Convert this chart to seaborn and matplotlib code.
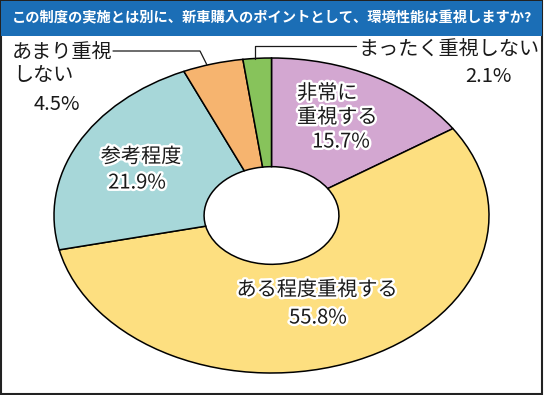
import matplotlib
matplotlib.use('Agg')
import matplotlib.pyplot as plt
import matplotlib.patheffects as pe
from matplotlib.patches import Rectangle
import seaborn as sns

sns.set_theme(style='white')
plt.rcParams['font.family'] = ['Noto Sans CJK JP', 'DejaVu Sans']

# Data (clockwise from 12 o'clock)
title = 'この制度の実施とは別に、新車購入のポイントとして、環境性能は重視しますか?'
categories = ['非常に重視する', 'ある程度重視する', '参考程度', 'あまり重視しない', 'まったく重視しない']
values = [15.7, 55.8, 21.9, 4.5, 2.1]
colors = ['#d3a7d1', '#fddf80', '#a7d7d9', '#f6b46f', '#87c35b']

W, H = 544, 395
fig = plt.figure(figsize=(W / 100, H / 100), dpi=100)

# background axes in pixel coordinates
bg = fig.add_axes([0, 0, 1, 1])
bg.set_xlim(0, W)
bg.set_ylim(H, 0)
bg.axis('off')
bg.add_patch(Rectangle((0.5, 0.5), W - 2.5, H - 2, facecolor='white',
                       edgecolor='#222222', linewidth=1.5))
bg.add_patch(Rectangle((0.5, 0.5), W - 2.5, 35.5, facecolor='#1b6eb6',
                       edgecolor='none'))
bg.text(W / 2, 18.5, title, color='white', fontsize=10.3, fontweight='bold',
        ha='center', va='center')

# elliptical donut: axes box equals the ellipse bounding box
left, right, top, bottom = 54, 489, 58, 373
ax = fig.add_axes([left / W, 1 - bottom / H, (right - left) / W, (bottom - top) / H])
wedges, _ = ax.pie(values, colors=sns.color_palette(colors), startangle=90,
                   counterclock=False, radius=1,
                   wedgeprops=dict(width=0.69, edgecolor='black', linewidth=1.1))
for w in wedges:
    w.set_clip_on(False)
ax.set_aspect('auto')
ax.set_xlim(-1, 1)
ax.set_ylim(-1, 1)
ax.axis('off')

# labels overlay
ov = fig.add_axes([0, 0, 1, 1])
ov.set_xlim(0, W)
ov.set_ylim(H, 0)
ov.axis('off')
ov.patch.set_alpha(0)

fs = 14.5
halo = [pe.withStroke(linewidth=3.5, foreground='white')]
pct = [f'{v}%' for v in values]

# inside labels
ov.text(297, 93.5, '非常に', fontsize=fs, ha='left', va='center', color='#1a1a1a', path_effects=halo)
ov.text(297, 117.5, '重視する', fontsize=fs, ha='left', va='center', color='#1a1a1a', path_effects=halo)
ov.text(341, 142, pct[0], fontsize=fs, ha='center', va='center', color='#1a1a1a', path_effects=halo)

ov.text(317, 290, categories[1], fontsize=fs, ha='center', va='center', color='#1a1a1a', path_effects=halo)
ov.text(318, 318, pct[1], fontsize=fs, ha='center', va='center', color='#1a1a1a', path_effects=halo)

ov.text(141, 157, categories[2], fontsize=fs, ha='center', va='center', color='#1a1a1a', path_effects=halo)
ov.text(137, 183, pct[2], fontsize=fs, ha='center', va='center', color='#1a1a1a', path_effects=halo)

# outside labels
ov.text(12, 53.5, 'あまり重視', fontsize=fs, ha='left', va='center', color='#1a1a1a')
ov.text(13, 75, 'しない', fontsize=fs, ha='left', va='center', color='#1a1a1a')
ov.text(57, 104.5, pct[3], fontsize=fs, ha='center', va='center', color='#1a1a1a')
ov.plot([113, 200, 207], [51, 51, 65], color='#1a1a1a', linewidth=0.9)

ov.text(358, 50, categories[4], fontsize=fs, ha='left', va='center', color='#1a1a1a')
ov.text(488, 77, pct[4], fontsize=fs, ha='center', va='center', color='#1a1a1a')
ov.plot([356, 255, 255], [46, 46, 58.5], color='#1a1a1a', linewidth=0.9)

fig.savefig('out.png', dpi=100)
